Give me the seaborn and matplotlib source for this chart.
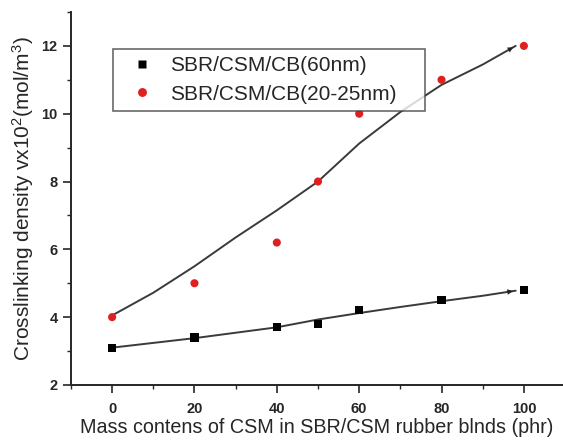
import matplotlib
matplotlib.use("Agg")
import matplotlib.pyplot as plt
import seaborn as sns
import pandas as pd
from matplotlib.ticker import MultipleLocator

# measured points
csm = [0, 20, 40, 50, 60, 80, 100]
cb60 = [3.1, 3.4, 3.7, 3.8, 4.2, 4.5, 4.8]
cb20 = [4.0, 5.0, 6.2, 8.0, 10.0, 11.0, 12.0]

# fitted curves
fit_x = [0, 10, 20, 30, 40, 50, 60, 70, 80, 90, 98]
fit60 = [3.1, 3.24, 3.38, 3.54, 3.7, 3.93, 4.12, 4.3, 4.47, 4.63, 4.78]
fit20 = [4.05, 4.72, 5.5, 6.35, 7.15, 8.0, 9.12, 10.05, 10.85, 11.45, 12.0]

sns.set_style("ticks")
plt.rcParams['font.family'] = ['Liberation Sans', 'DejaVu Sans']

fig = plt.figure(figsize=(5.63, 4.44), dpi=100)
ax = fig.add_axes([0.126, 0.133, 0.874, 0.84])

pts = pd.DataFrame({'x': csm * 2, 'y': cb60 + cb20,
                    'series': ['SBR/CSM/CB(60nm)'] * 7 + ['SBR/CSM/CB(20-25nm)'] * 7})
fits = pd.DataFrame({'x': fit_x * 2, 'y': fit60 + fit20,
                     'series': ['a'] * len(fit_x) + ['b'] * len(fit_x)})

sns.lineplot(data=fits, x='x', y='y', units='series', estimator=None,
             color='#3a3a3a', lw=1.4, ax=ax, legend=False)
sns.scatterplot(data=pts, x='x', y='y', hue='series', style='series',
                markers={'SBR/CSM/CB(60nm)': 's', 'SBR/CSM/CB(20-25nm)': 'o'},
                palette={'SBR/CSM/CB(60nm)': 'black', 'SBR/CSM/CB(20-25nm)': '#e02020'},
                s=34, edgecolor='none', ax=ax, zorder=3)

# little arrowheads at the end of the fit curves
for fy in (fit60, fit20):
    ax.annotate('', xy=(fit_x[-1], fy[-1]), xytext=(fit_x[-2], fy[-2]),
                arrowprops=dict(arrowstyle='-|>', color='#222222', lw=0, mutation_scale=10))

ax.set_xlim(-10, 109.5)
ax.set_ylim(2, 13)
ax.set_xticks([0, 20, 40, 60, 80, 100])
ax.set_yticks([2, 4, 6, 8, 10, 12])
ax.xaxis.set_minor_locator(MultipleLocator(10))
ax.yaxis.set_minor_locator(MultipleLocator(1))
ax.tick_params(which='major', length=6, width=1.2, labelsize=10.5)
ax.tick_params(axis='x', which='major', pad=6)
ax.tick_params(which='minor', length=3, width=1.0)
for lab in ax.get_xticklabels() + ax.get_yticklabels():
    lab.set_fontweight('bold')
for s in ('left', 'bottom'):
    ax.spines[s].set_linewidth(1.4)
sns.despine(ax=ax)

ax.set_xlabel('Mass contens of CSM in SBR/CSM rubber blnds (phr)', fontsize=14.2, labelpad=2)
ax.set_ylabel(r'Crosslinking density $\mathregular{vx10^2(mol/m^3)}$', fontsize=15)

leg = ax.legend(loc='upper left', bbox_to_anchor=(0.085, 0.5, 0.635, 0.401),
                mode='expand', borderaxespad=0, fontsize=15,
                frameon=True, fancybox=False, edgecolor='#444444',
                handlelength=2.1, handletextpad=0.3, borderpad=0.35,
                labelspacing=0.45, markerscale=1.1)
leg.get_frame().set_linewidth(1.2)

fig.savefig('out.png', dpi=100)
